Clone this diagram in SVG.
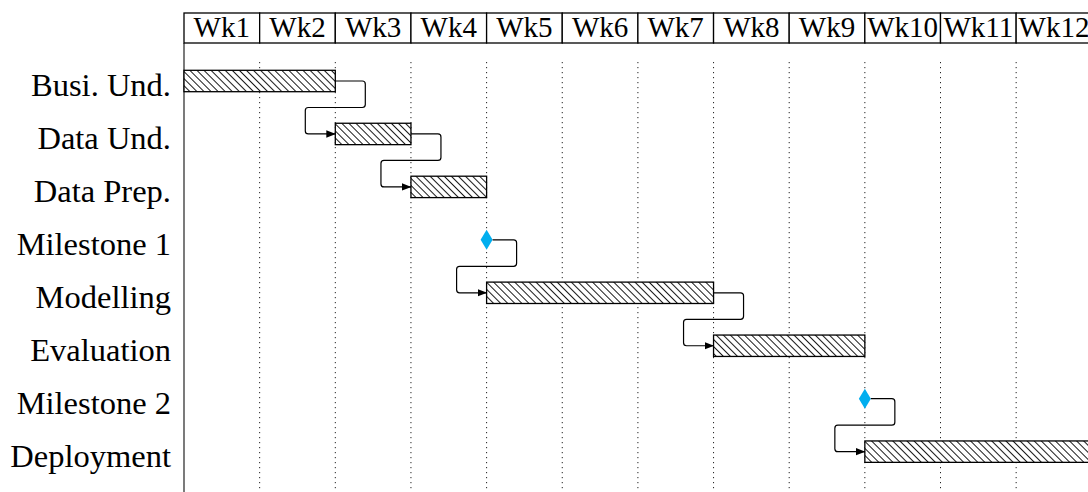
<svg xmlns="http://www.w3.org/2000/svg" width="1088" height="492" viewBox="0 0 1088 492">
<style>
.hdr{font-family:"Liberation Serif",serif;font-size:29px;fill:#000;text-anchor:middle}
.lbl{font-family:"Liberation Serif",serif;font-size:32.5px;fill:#000;text-anchor:end}
.cell{fill:#fff;stroke:#000;stroke-width:1.3}
.grid{stroke:#222;stroke-width:1;stroke-dasharray:1.2 3.8;fill:none}
.bar{fill:url(#hatch);stroke:#000;stroke-width:1.3}
.ms{fill:#00AEEF;stroke:none}
.con{fill:none;stroke:#000;stroke-width:1.2;marker-end:url(#arr)}
</style>
<defs>
<pattern id="hatch" patternUnits="userSpaceOnUse" width="5" height="5" patternTransform="rotate(45)">
<rect width="5" height="5" fill="#fff"/>
<line x1="0" y1="0.5" x2="5" y2="0.5" stroke="#000" stroke-width="0.9"/>
</pattern>
<marker id="arr" markerWidth="10" markerHeight="8" refX="9" refY="4" orient="auto" markerUnits="userSpaceOnUse">
<path d="M0,0.3 L9.5,4 L0,7.7 Z" fill="#000"/>
</marker>
</defs>
<rect width="1088" height="492" fill="#fff"/>

<g id="grid">
<line class="grid" x1="259.65" y1="62" x2="259.65" y2="492"/>
<line class="grid" x1="335.3" y1="62" x2="335.3" y2="492"/>
<line class="grid" x1="410.95" y1="62" x2="410.95" y2="492"/>
<line class="grid" x1="486.6" y1="62" x2="486.6" y2="492"/>
<line class="grid" x1="562.25" y1="62" x2="562.25" y2="492"/>
<line class="grid" x1="637.9" y1="62" x2="637.9" y2="492"/>
<line class="grid" x1="713.55" y1="62" x2="713.55" y2="492"/>
<line class="grid" x1="789.2" y1="62" x2="789.2" y2="492"/>
<line class="grid" x1="864.85" y1="62" x2="864.85" y2="492"/>
<line class="grid" x1="940.5" y1="62" x2="940.5" y2="492"/>
<line class="grid" x1="1016.15" y1="62" x2="1016.15" y2="492"/>
<line x1="184" y1="43" x2="184" y2="492" stroke="#333" stroke-width="1.3"/>
</g>

<g id="header">
<rect class="cell" x="184" y="13" width="75.65" height="30"/>
<rect class="cell" x="259.65" y="13" width="75.65" height="30"/>
<rect class="cell" x="335.3" y="13" width="75.65" height="30"/>
<rect class="cell" x="410.95" y="13" width="75.65" height="30"/>
<rect class="cell" x="486.6" y="13" width="75.65" height="30"/>
<rect class="cell" x="562.25" y="13" width="75.65" height="30"/>
<rect class="cell" x="637.9" y="13" width="75.65" height="30"/>
<rect class="cell" x="713.55" y="13" width="75.65" height="30"/>
<rect class="cell" x="789.2" y="13" width="75.65" height="30"/>
<rect class="cell" x="864.85" y="13" width="75.65" height="30"/>
<rect class="cell" x="940.5" y="13" width="75.65" height="30"/>
<rect class="cell" x="1016.15" y="13" width="75.65" height="30"/>
<text class="hdr" x="221.8" y="37">Wk1</text>
<text class="hdr" x="297.5" y="37">Wk2</text>
<text class="hdr" x="373.1" y="37">Wk3</text>
<text class="hdr" x="448.8" y="37">Wk4</text>
<text class="hdr" x="524.4" y="37">Wk5</text>
<text class="hdr" x="600.1" y="37">Wk6</text>
<text class="hdr" x="675.7" y="37">Wk7</text>
<text class="hdr" x="751.4" y="37">Wk8</text>
<text class="hdr" x="827" y="37">Wk9</text>
<text class="hdr" x="902.7" y="37">Wk10</text>
<text class="hdr" x="978.3" y="37">Wk11</text>
<text class="hdr" x="1054" y="37">Wk12</text>
</g>

<g id="busi">
<text class="lbl" x="171" y="96">Busi. Und.</text>
<rect class="bar" x="184" y="70.3" width="151.3" height="21.4"/>
</g>
<g id="dataund">
<text class="lbl" x="171" y="149">Data Und.</text>
<rect class="bar" x="335.3" y="123.25" width="75.65" height="21.4"/>
</g>
<g id="dataprep">
<text class="lbl" x="171" y="202">Data Prep.</text>
<rect class="bar" x="410.95" y="176.2" width="75.65" height="21.4"/>
</g>
<g id="milestone1">
<text class="lbl" x="171" y="255">Milestone 1</text>
<path class="ms" d="M486.6,229.85 L492.6,239.85 L486.6,249.85 L480.6,239.85 Z"/>
</g>
<g id="modelling">
<text class="lbl" x="171" y="308">Modelling</text>
<rect class="bar" x="486.6" y="282.1" width="226.95" height="21.4"/>
</g>
<g id="evaluation">
<text class="lbl" x="171" y="361">Evaluation</text>
<rect class="bar" x="713.55" y="335.05" width="151.3" height="21.4"/>
</g>
<g id="milestone2">
<text class="lbl" x="171" y="414">Milestone 2</text>
<path class="ms" d="M864.85,388.7 L870.85,398.7 L864.85,408.7 L858.85,398.7 Z"/>
</g>
<g id="deployment">
<text class="lbl" x="171" y="467">Deployment</text>
<rect class="bar" x="864.85" y="440.95" width="230" height="21.4"/>
</g>

<g id="connectors">
<path class="con" d="M335.3,81 H362.3 Q365.3,81 365.3,84 V104.5 Q365.3,107.5 362.3,107.5 H308.3 Q305.3,107.5 305.3,110.5 V130.95 Q305.3,133.95 308.3,133.95 H335.3"/>
<path class="con" d="M410.95,133.95 H437.95 Q440.95,133.95 440.95,136.95 V157.45 Q440.95,160.45 437.95,160.45 H383.95 Q380.95,160.45 380.95,163.45 V183.9 Q380.95,186.9 383.95,186.9 H410.95"/>
<path class="con" d="M492.6,239.85 H513.6 Q516.6,239.85 516.6,242.85 V263.35 Q516.6,266.35 513.6,266.35 H459.6 Q456.6,266.35 456.6,269.35 V289.8 Q456.6,292.8 459.6,292.8 H486.6"/>
<path class="con" d="M713.55,292.8 H740.55 Q743.55,292.8 743.55,295.8 V316.3 Q743.55,319.3 740.55,319.3 H686.55 Q683.55,319.3 683.55,322.3 V342.75 Q683.55,345.75 686.55,345.75 H713.55"/>
<path class="con" d="M870.85,398.7 H891.85 Q894.85,398.7 894.85,401.7 V422.2 Q894.85,425.2 891.85,425.2 H837.85 Q834.85,425.2 834.85,428.2 V448.65 Q834.85,451.65 837.85,451.65 H864.85"/>
</g>
</svg>
